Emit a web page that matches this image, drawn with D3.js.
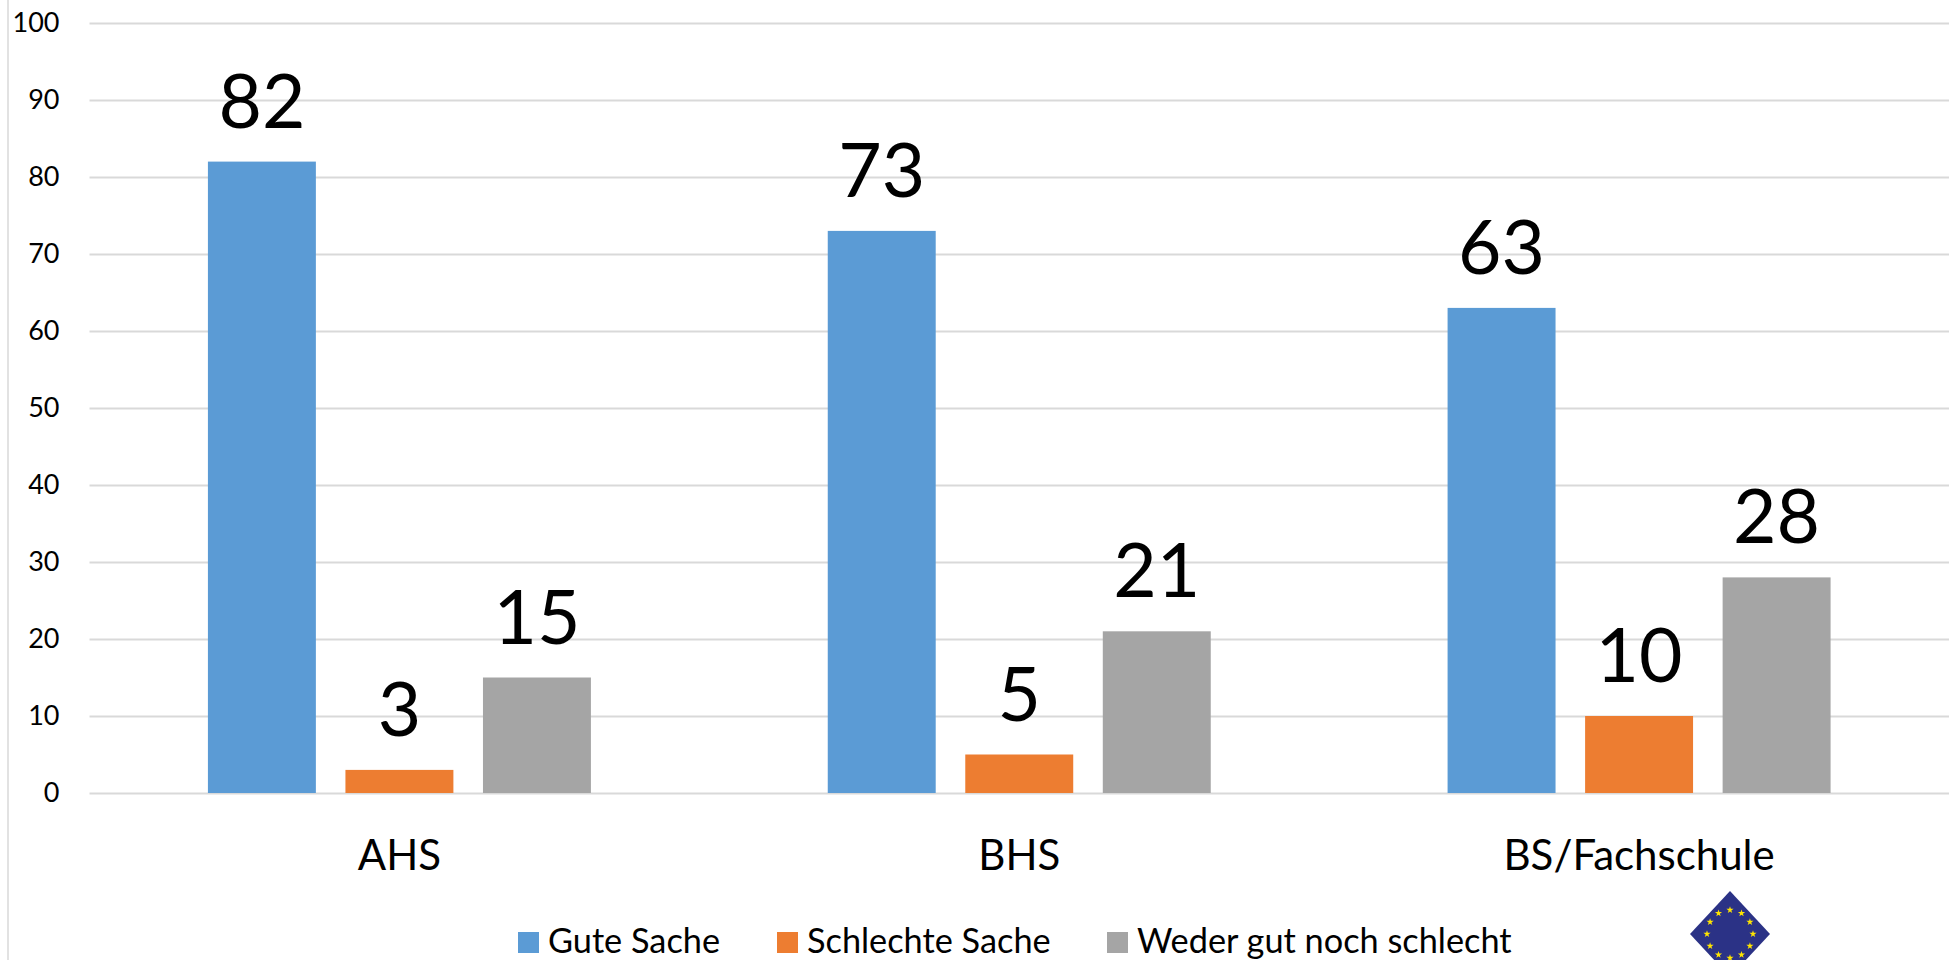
<!DOCTYPE html>
<html>
<head>
<meta charset="utf-8">
<script src="https://cdn.jsdelivr.net/npm/d3@7"></script>
<style>
html, body { margin: 0; padding: 0; background: #fff; overflow: hidden; }
text { font-family: Lato, "Open Sans", sans-serif; fill: #000; }
</style>
</head>
<body>
<svg id="chart" width="1958" height="960"></svg>
<script>
const categories = ["AHS", "BHS", "BS/Fachschule"];
const seriesNames = ["Gute Sache", "Schlechte Sache", "Weder gut noch schlecht"];
const gute = [82, 73, 63];
const schlechte = [3, 5, 10];
const weder = [15, 21, 28];
const yTicks = [0, 10, 20, 30, 40, 50, 60, 70, 80, 90, 100];
const colors = ["#5b9bd5", "#ed7d31", "#a5a5a5"];

const allSeries = [gute, schlechte, weder];

var svg = d3.select("#chart");

var x = d3.scaleBand().domain(categories).range([89.5, 1949]);
var inner = d3.scaleBand().domain(seriesNames).range([0, 383]).paddingInner(0.215);
var groupPad = (x.bandwidth() - inner.range()[1]) / 2;
var y = d3.scaleLinear().domain([0, 100]).range([793, 23]);

// left border of the picture
svg.append("line")
    .attr("x1", 8).attr("x2", 8)
    .attr("y1", 0).attr("y2", 960)
    .attr("stroke", "#d9d9d9").attr("stroke-width", 1.5);

// y axis with gridlines
var yAxis = d3.axisLeft(y).tickValues(yTicks).tickSize(-(1949 - 89.5)).tickPadding(30);
var yG = svg.append("g").attr("transform", "translate(89.5,0)").call(yAxis);
yG.select(".domain").remove();
yG.selectAll("line").attr("stroke", "#d9d9d9").attr("stroke-width", 2);
yG.selectAll("text").attr("font-size", 27).style("font-family", "Lato");

// x axis labels
var xAxis = d3.axisBottom(x).tickSize(0).tickPadding(47);
var xG = svg.append("g").attr("transform", "translate(0,793)").call(xAxis);
xG.select(".domain").remove();
xG.selectAll("text").attr("font-size", 42).style("font-family", "Lato");

// bars and their labels
var groups = svg.selectAll(".group")
    .data(categories)
    .enter()
    .append("g")
    .attr("class", "group")
    .attr("transform", function (d) { return `translate(${x(d) + groupPad},0)` });

allSeries.forEach(function (values, s) {
    var name = seriesNames[s];
    groups.append("rect")
        .attr("x", inner(name))
        .attr("width", inner.bandwidth())
        .attr("y", function (d, i) { return y(values[i]) })
        .attr("height", function (d, i) { return y(0) - y(values[i]) })
        .attr("fill", colors[s]);
    groups.append("text")
        .attr("x", inner(name) + inner.bandwidth() / 2)
        .attr("y", function (d, i) { return y(values[i]) - 34 })
        .attr("text-anchor", "middle")
        .attr("font-size", 75)
        .text(function (d, i) { return values[i] });
});

// legend
var legendX = [518, 777, 1107];
var legend = svg.selectAll(".legend")
    .data(seriesNames)
    .enter()
    .append("g")
    .attr("class", "legend")
    .attr("transform", function (d, i) { return `translate(${legendX[i]},0)` });
legend.append("rect")
    .attr("y", 932).attr("width", 21).attr("height", 21)
    .attr("fill", function (d, i) { return colors[i] });
legend.append("text")
    .attr("x", 30).attr("y", 953)
    .attr("font-size", 34.3)
    .text(function (d) { return d });

// EU logo
var logo = svg.append("g").attr("transform", "translate(1730,934)");
logo.append("path").attr("d", "M0,-43L40,0L0,43L-40,0Z").attr("fill", "#2b3286");
var star = d3.symbol().type(d3.symbolStar).size(16);
logo.selectAll(".star")
    .data(d3.range(12))
    .enter()
    .append("path")
    .attr("class", "star")
    .attr("d", star)
    .attr("fill", "#ffe500")
    .attr("transform", function (d) {
        const a = d / 12 * 2 * Math.PI;
        return `translate(${23 * Math.sin(a)},${-24 * Math.cos(a)})`;
    });
</script>
</body>
</html>
